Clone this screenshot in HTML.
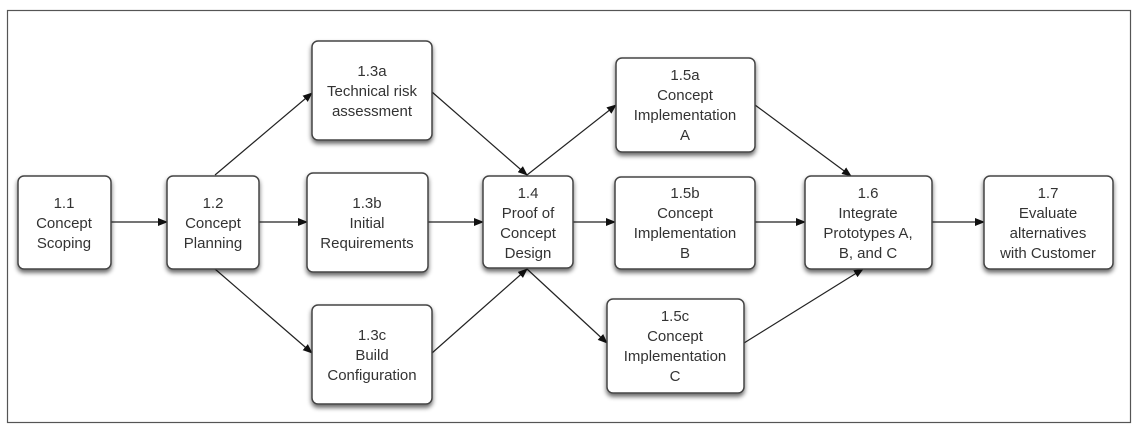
<!DOCTYPE html>
<html><head><meta charset="utf-8"><style>
html,body{margin:0;padding:0;background:#fff;}
svg{display:block;}
text{font-family:"Liberation Sans",Arial,sans-serif;font-size:15px;fill:#333;text-anchor:middle;}
</style></head><body>
<svg width="1139" height="429" viewBox="0 0 1139 429" xmlns="http://www.w3.org/2000/svg">
<defs>
<filter id="sh" x="-20%" y="-20%" width="140%" height="150%">
<feGaussianBlur in="SourceAlpha" stdDeviation="2.5"/>
<feOffset dx="0" dy="3" result="b"/>
<feComponentTransfer><feFuncA type="linear" slope="0.6"/></feComponentTransfer>
<feMerge><feMergeNode/><feMergeNode in="SourceGraphic"/></feMerge>
</filter>
<marker id="ar" markerWidth="10" markerHeight="8" refX="9" refY="4" orient="auto" markerUnits="userSpaceOnUse">
<path d="M0,0 L10,4 L0,8 z" fill="#111"/>
</marker>
</defs>
<rect x="7.5" y="10.5" width="1123" height="412" fill="none" stroke="#555" stroke-width="1.2"/>
<g stroke="#222" stroke-width="1.2" marker-end="url(#ar)">
<line x1="111" y1="222" x2="167" y2="222"/>
<line x1="215" y1="175" x2="312" y2="93"/>
<line x1="259" y1="222" x2="307" y2="222"/>
<line x1="215" y1="269" x2="312" y2="353"/>
<line x1="432" y1="92" x2="527" y2="175"/>
<line x1="428" y1="222" x2="483" y2="222"/>
<line x1="432" y1="353" x2="527" y2="269"/>
<line x1="527" y1="175" x2="616" y2="105"/>
<line x1="573" y1="222" x2="615" y2="222"/>
<line x1="527" y1="269" x2="607" y2="343"/>
<line x1="755" y1="105" x2="851" y2="176"/>
<line x1="755" y1="222" x2="805" y2="222"/>
<line x1="744" y1="343" x2="863" y2="269"/>
<line x1="932" y1="222" x2="984" y2="222"/>
</g>
<g fill="#fff" stroke="#444" stroke-width="1.5" filter="url(#sh)">
<rect x="18" y="176" width="93" height="93" rx="6"/>
<rect x="167" y="176" width="92" height="93" rx="6"/>
<rect x="312" y="41" width="120" height="99" rx="6"/>
<rect x="307" y="173" width="121" height="99" rx="6"/>
<rect x="312" y="305" width="120" height="99" rx="6"/>
<rect x="483" y="176" width="90" height="92" rx="6"/>
<rect x="616" y="58" width="139" height="94" rx="6"/>
<rect x="615" y="177" width="140" height="92" rx="6"/>
<rect x="607" y="299" width="137" height="94" rx="6"/>
<rect x="805" y="176" width="127" height="93" rx="6"/>
<rect x="984" y="176" width="129" height="93" rx="6"/>
</g>
<text x="64" y="208">1.1</text><text x="64" y="228">Concept</text><text x="64" y="248">Scoping</text>
<text x="213" y="208">1.2</text><text x="213" y="228">Concept</text><text x="213" y="248">Planning</text>
<text x="372" y="76">1.3a</text><text x="372" y="96">Technical  risk</text><text x="372" y="116">assessment</text>
<text x="367" y="208">1.3b</text><text x="367" y="228">Initial</text><text x="367" y="248">Requirements</text>
<text x="372" y="340">1.3c</text><text x="372" y="360">Build</text><text x="372" y="380">Configuration</text>
<text x="528" y="198">1.4</text><text x="528" y="218">Proof of</text><text x="528" y="238">Concept</text><text x="528" y="258">Design</text>
<text x="685" y="80">1.5a</text><text x="685" y="100">Concept</text><text x="685" y="120">Implementation</text><text x="685" y="140">A</text>
<text x="685" y="198">1.5b</text><text x="685" y="218">Concept</text><text x="685" y="238">Implementation</text><text x="685" y="258">B</text>
<text x="675" y="321">1.5c</text><text x="675" y="341">Concept</text><text x="675" y="361">Implementation</text><text x="675" y="381">C</text>
<text x="868" y="198">1.6</text><text x="868" y="218">Integrate</text><text x="868" y="238">Prototypes A,</text><text x="868" y="258">B, and C</text>
<text x="1048" y="198">1.7</text><text x="1048" y="218">Evaluate</text><text x="1048" y="238">alternatives</text><text x="1048" y="258">with Customer</text>
</svg>
</body></html>
